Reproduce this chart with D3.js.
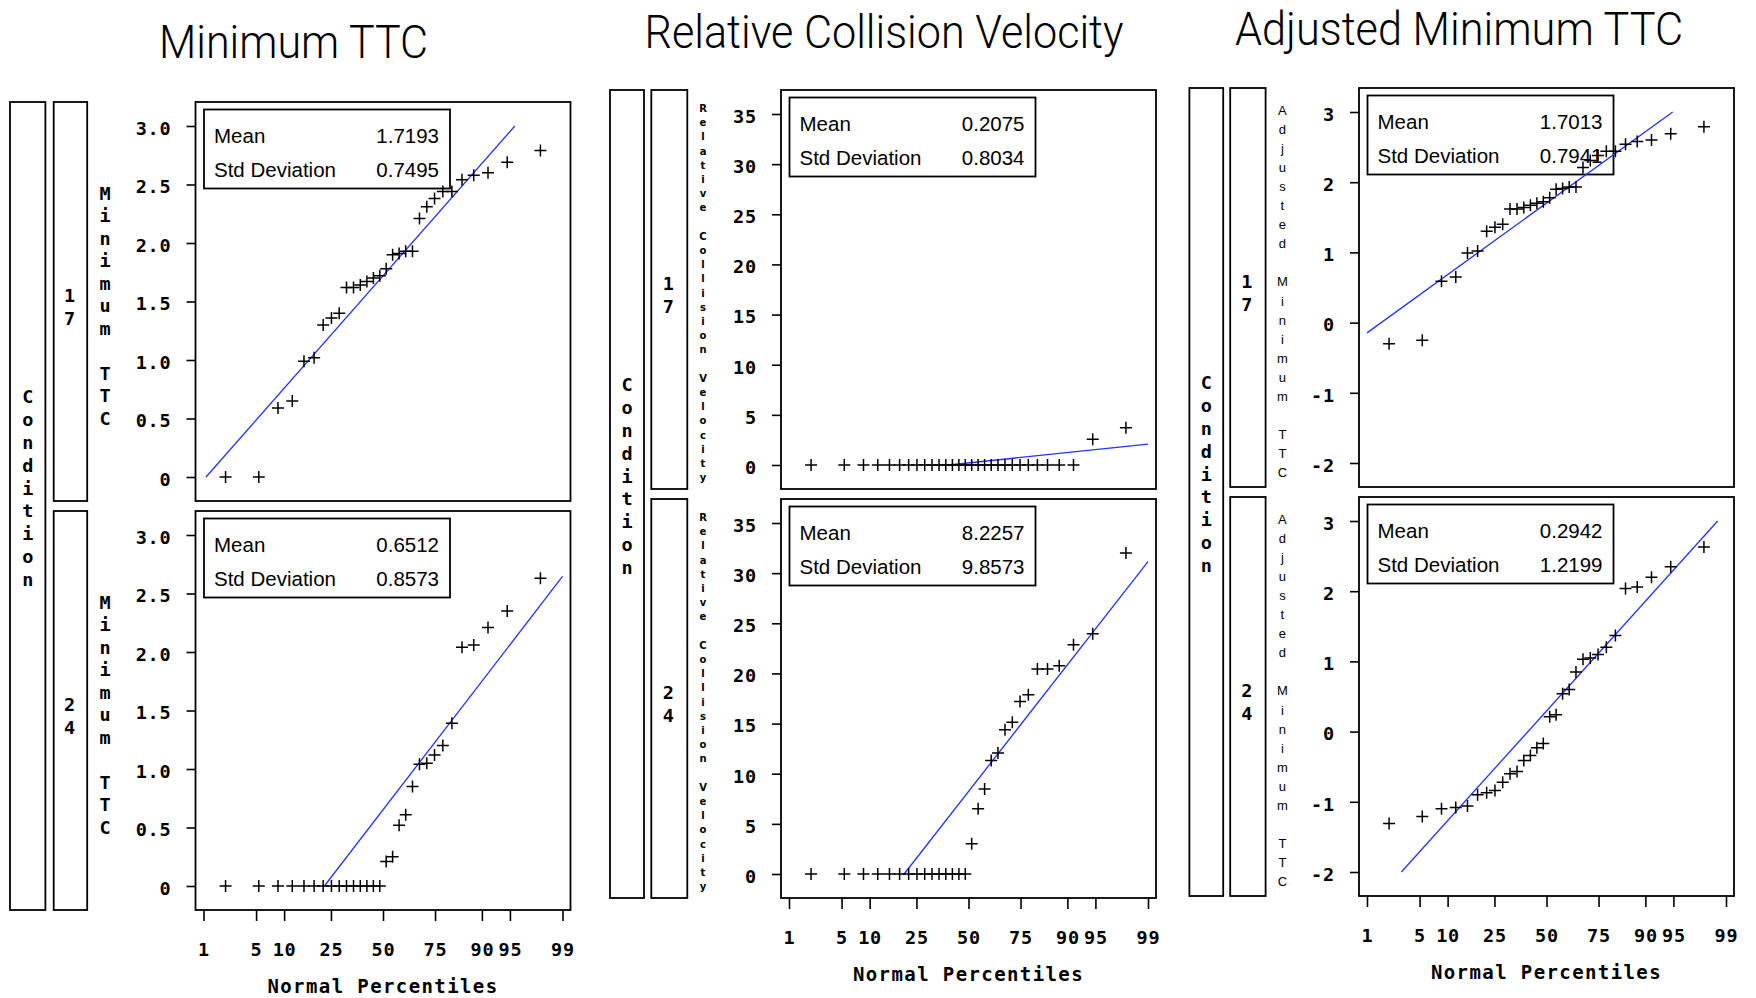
<!DOCTYPE html>
<html>
<head>
<meta charset="utf-8">
<script src="https://cdn.jsdelivr.net/npm/d3@7"></script>
<style>
  html, body { margin: 0; padding: 0; background: #fff; }
  svg { display: block; }
  .mono { font-family: "DejaVu Sans Mono", monospace; font-weight: bold; }
  .swiss { font-family: "Liberation Sans", Arial, sans-serif; }
  .title { font-family: Roboto, "Liberation Sans", sans-serif; font-weight: 300; }
</style>
</head>
<body>
<svg id="chart" width="1756" height="998"></svg>
<script>
// chart data: sorted values per condition (n = 30 each)
const titles = ["Minimum TTC", "Relative Collision Velocity", "Adjusted Minimum TTC"];
const conditions = ["17", "24"];
const pctTicks = [1, 5, 10, 25, 50, 75, 90, 95, 99];

const ttc17 = [0, 0, 0.59, 0.65, 0.99, 1.02, 1.30, 1.36, 1.40, 1.62, 1.62, 1.64, 1.67, 1.70, 1.72,
               1.78, 1.90, 1.91, 1.93, 1.93, 2.21, 2.31, 2.38, 2.44, 2.44, 2.54, 2.58, 2.60, 2.69, 2.79];
const ttc24 = [0, 0, 0, 0, 0, 0, 0, 0, 0, 0, 0, 0, 0, 0, 0,
               0.21, 0.25, 0.52, 0.61, 0.85, 1.04, 1.05, 1.12, 1.20, 1.39, 2.04, 2.06, 2.21, 2.35, 2.63];
const vel17 = [0, 0, 0, 0, 0, 0, 0, 0, 0, 0, 0, 0, 0, 0, 0,
               0, 0, 0, 0, 0, 0, 0, 0, 0, 0, 0, 0, 0, 2.56, 3.72];
const vel24 = [0, 0, 0, 0, 0, 0, 0, 0, 0, 0, 0, 0, 0, 0, 0,
               3.02, 6.5, 8.47, 11.33, 12.06, 14.39, 15.12, 17.2, 17.88, 20.44, 20.44, 20.77, 22.86, 23.96, 32.0];
const adj17 = [-0.30, -0.25, 0.59, 0.65, 0.99, 1.02, 1.30, 1.36, 1.40, 1.62, 1.62, 1.64, 1.67, 1.70, 1.72,
               1.78, 1.90, 1.91, 1.93, 1.93, 2.21, 2.31, 2.38, 2.44, 2.44, 2.54, 2.58, 2.60, 2.69, 2.79];
const adj24 = [-1.31, -1.21, -1.10, -1.08, -1.06, -0.90, -0.87, -0.84, -0.72, -0.60, -0.57, -0.41, -0.34, -0.23, -0.17,
               0.21, 0.24, 0.54, 0.60, 0.85, 1.03, 1.05, 1.10, 1.20, 1.37, 2.04, 2.06, 2.20, 2.35, 2.63];

// [mean, std deviation] per condition
const ttcStats = [[1.7193, 0.7495], [0.6512, 0.8573]];
const velStats = [[0.2075, 0.8034], [8.2257, 9.8573]];
const adjStats = [[1.7013, 0.7941], [0.2942, 1.2199]];

const ttcTicks = [0, 0.5, 1.0, 1.5, 2.0, 2.5, 3.0];
const velTicks = [0, 5, 10, 15, 20, 25, 30, 35];
const adjTicks = [-2, -1, 0, 1, 2, 3];

// inverse normal cdf (Acklam) for the probability axis
function probit(p) {
  const a = [-39.69683028665376, 220.9460984245205, -275.9285104469687, 138.3577518672690, -30.66479806614716, 2.506628277459239];
  const b = [-54.47609879822406, 161.5858368580409, -155.6989798598866, 66.80131188771972, -13.28068155288572];
  const c = [-0.007784894002430293, -0.3223964580411365, -2.400758277161838, -2.549732539343734, 4.374664141464968, 2.938163982698783];
  const d = [0.007784695709041462, 0.3224671290700398, 2.445134137142996, 3.754408661907416];
  const pl = 0.02425;
  let q, r;
  if (p < pl) {
    q = Math.sqrt(-2 * Math.log(p));
    return (((((c[0]*q+c[1])*q+c[2])*q+c[3])*q+c[4])*q+c[5]) / ((((d[0]*q+d[1])*q+d[2])*q+d[3])*q+1);
  }
  if (p > 1 - pl) {
    q = Math.sqrt(-2 * Math.log(1 - p));
    return -(((((c[0]*q+c[1])*q+c[2])*q+c[3])*q+c[4])*q+c[5]) / ((((d[0]*q+d[1])*q+d[2])*q+d[3])*q+1);
  }
  q = p - 0.5; r = q * q;
  return (((((a[0]*r+a[1])*r+a[2])*r+a[3])*r+a[4])*r+a[5])*q / (((((b[0]*r+b[1])*r+b[2])*r+b[3])*r+b[4])*r+1);
}
// Blom plotting position of rank i (0-based)
const blom = (i, n) => probit((i + 1 - 0.375) / (n + 0.25));

const W = 375, H = 399, GAP = 10;

const cols = [
  { title: titles[0], tx: 293.5, ty: 58, tlen: 269, data: [ttc17, ttc24], stats: ttcStats, ticks: ttcTicks,
    fmt: v => v === 0 ? "0" : v.toFixed(1),
    x0: 195.5, y0: 102, condX: 10, condW: 35.4, valX: 53.7, valW: 33.5, labX: 105,
    ylab: "Minimum TTC", labKind: "big" },
  { title: titles[1], tx: 884, ty: 48, tlen: 479, data: [vel17, vel24], stats: velStats, ticks: velTicks,
    fmt: v => String(v),
    x0: 781, y0: 90, condX: 610, condW: 34, valX: 651.3, valW: 36, labX: 703,
    ylab: "Relative Collision Velocity", labKind: "tiny" },
  { title: titles[2], tx: 1459, ty: 45, tlen: 448, data: [adj17, adj24], stats: adjStats, ticks: adjTicks,
    fmt: v => String(v),
    x0: 1359, y0: 88, condX: 1189.4, condW: 33.8, valX: 1230.2, valW: 35.4, labX: 1282.4,
    ylab: "Adjusted Minimum TTC", labKind: "small" }
];

const svg = d3.select("#chart");

// stacked vertical text, one glyph per slot
function stack(g, text, cx, cy, step, cls, size) {
  const chars = text.split("");
  const n = chars.length;
  g.append("g").selectAll("text")
    .data(chars.map((ch, i) => ({ ch, i })).filter(d => d.ch !== " "))
    .enter().append("text")
      .attr("class", cls)
      .attr("x", cx)
      .attr("y", d => cy + (d.i - (n - 1) / 2) * step)
      .attr("text-anchor", "middle")
      .attr("dominant-baseline", "central")
      .attr("font-size", size)
      .text(d => d.ch);
}

cols.forEach(col => {
  const g = svg.append("g");

  g.append("text")
    .attr("class", "title")
    .attr("x", col.tx)
    .attr("y", col.ty)
    .attr("text-anchor", "middle")
    .attr("font-size", 47)
    .attr("textLength", col.tlen)
    .attr("lengthAdjust", "spacingAndGlyphs")
    .text(col.title);

  const x = d3.scaleLinear().domain([-2.43, 2.43]).range([col.x0, col.x0 + W]);
  const totalH = 2 * H + GAP;

  // outer "Condition" box
  g.append("rect")
    .attr("x", col.condX).attr("y", col.y0)
    .attr("width", col.condW).attr("height", totalH)
    .attr("fill", "none").attr("stroke", "#000").attr("stroke-width", 1.8);
  stack(g, "Condition", col.condX + col.condW / 2, col.y0 + totalH / 2 - 18, 22.9, "mono", 18.5);

  col.data.forEach((vals, k) => {
    const top = col.y0 + k * (H + GAP);
    const [mean, sd] = col.stats[k];
    const [ymin, ymax] = d3.extent(col.ticks);
    const y = d3.scaleLinear().domain([ymin, ymax]).range([top + H - 24, top + 24]);

    // condition value box
    g.append("rect")
      .attr("x", col.valX).attr("y", top)
      .attr("width", col.valW).attr("height", H)
      .attr("fill", "none").attr("stroke", "#000").attr("stroke-width", 1.8);
    stack(g, conditions[k], col.valX + col.valW / 2 - 1, top + H / 2 + 5, 23, "mono", 18.5);

    // stacked y label
    if (col.labKind === "big") stack(g, col.ylab, col.labX, top + H / 2 + 4, 22.5, "mono", 18.5);
    else if (col.labKind === "tiny") stack(g, col.ylab, col.labX, top + H / 2 + 3.5, 14.2, "tiny", 10);
    else stack(g, col.ylab, col.labX, top + H / 2 + 4, 19.1, "small", 13);

    // frame
    g.append("rect")
      .attr("x", col.x0).attr("y", top)
      .attr("width", W).attr("height", H)
      .attr("fill", "none").attr("stroke", "#000").attr("stroke-width", 1.8);

    // y axis
    g.append("g")
      .attr("transform", `translate(${col.x0},0)`)
      .call(d3.axisLeft(y).tickValues(col.ticks).tickSize(9).tickPadding(15).tickFormat(col.fmt))
      .call(a => a.select(".domain").remove())
      .call(a => a.selectAll("line").attr("stroke", "#000").attr("stroke-width", 1.6))
      .call(a => a.selectAll("text")
        .attr("class", "mono")
        .attr("font-size", 18.5)
        .attr("letter-spacing", 0.8)
        .attr("fill", "#000")
        .attr("dy", "0.45em"));

    // stats inset
    const bx = col.x0 + 8.5, by = top + 7.5, bw = 246, bh = 79;
    g.append("rect")
      .attr("x", bx).attr("y", by).attr("width", bw).attr("height", bh)
      .attr("fill", "none").attr("stroke", "#000").attr("stroke-width", 1.8);
    const rows = [["Mean", mean], ["Std Deviation", sd]];
    rows.forEach((r, j) => {
      g.append("text").attr("class", "swiss")
        .attr("x", bx + 10).attr("y", top + 41 + j * 34)
        .attr("font-size", 20.5).text(r[0]);
      g.append("text").attr("class", "swiss")
        .attr("x", bx + bw - 11).attr("y", top + 41 + j * 34)
        .attr("font-size", 20.5).attr("text-anchor", "end")
        .text(r[1].toFixed(4));
    });

    // reference line mean + sd * z, clipped to the axis range
    const z0 = Math.max(probit(0.01), (ymin - mean) / sd);
    const z1 = Math.min(probit(0.99), (ymax - mean) / sd);
    g.append("line")
      .attr("x1", x(z0)).attr("y1", y(mean + sd * z0))
      .attr("x2", x(z1)).attr("y2", y(mean + sd * z1))
      .attr("stroke", "#2233ff").attr("stroke-width", 1.3);

    // points
    const pts = vals.map((v, i) => ({ z: blom(i, vals.length), v }));
    g.append("g").selectAll("path")
      .data(pts)
      .enter().append("path")
        .attr("d", d => {
          const px = x(d.z), py = y(d.v), s = 6;
          return `M${px - s},${py}H${px + s}M${px},${py - s}V${py + s}`;
        })
        .attr("stroke", "#000").attr("stroke-width", 1.5).attr("fill", "none");

    // x axis on the lower panel
    if (k === 1) {
      g.append("g")
        .attr("transform", `translate(0,${top + H})`)
        .call(d3.axisBottom(x).tickValues(pctTicks.map(p => probit(p / 100)))
          .tickSize(11).tickFormat((d, i) => pctTicks[i]))
        .call(a => a.select(".domain").remove())
        .call(a => a.selectAll("line").attr("stroke", "#000").attr("stroke-width", 1.6))
        .call(a => a.selectAll("text")
          .attr("class", "mono")
          .attr("font-size", 18.5)
          .attr("letter-spacing", 0.8)
          .attr("fill", "#000")
          .attr("y", 46).attr("dy", null));

      g.append("text")
        .attr("class", "mono")
        .attr("x", col.x0 + W / 2)
        .attr("y", top + H + 83)
        .attr("text-anchor", "middle")
        .attr("font-size", 19)
        .attr("letter-spacing", 1.4)
        .text("Normal Percentiles");
    }
  });
});

svg.selectAll(".tiny").attr("font-family", "DejaVu Sans, sans-serif").attr("font-weight", "bold");
svg.selectAll(".small").attr("font-family", "Liberation Sans, Arial, sans-serif");
</script>
</body>
</html>
